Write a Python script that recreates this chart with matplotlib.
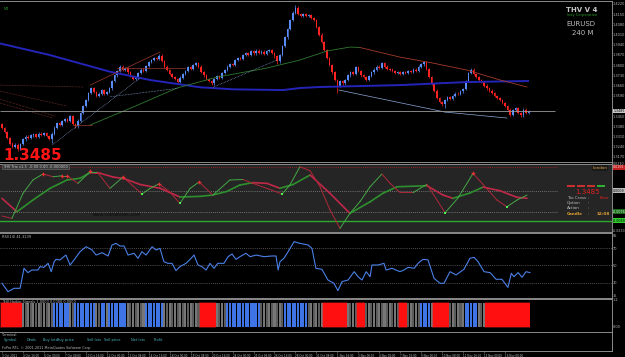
import matplotlib
matplotlib.use("Agg")
import matplotlib.pyplot as plt
import numpy as np
from matplotlib.collections import LineCollection
from matplotlib.patches import Rectangle

# ---- price data (EURUSD H4), bar index 0..201 ----
first_open = 1.3395
closes = [
    1.3370, 1.3340, 1.3300, 1.3262, 1.3240, 1.3255, 1.3228, 1.3260, 1.3290, 1.3310,
    1.3300, 1.3318, 1.3325, 1.3310, 1.3330, 1.3322, 1.3335, 1.3312, 1.3295, 1.3330,
    1.3372, 1.3400, 1.3390, 1.3415, 1.3432, 1.3420, 1.3448, 1.3395, 1.3380, 1.3420,
    1.3470, 1.3520, 1.3560, 1.3610, 1.3645, 1.3615, 1.3590, 1.3605, 1.3628, 1.3600,
    1.3615, 1.3640, 1.3690, 1.3730, 1.3760, 1.3790, 1.3770, 1.3782, 1.3750, 1.3725,
    1.3705, 1.3715, 1.3745, 1.3770, 1.3760, 1.3795, 1.3820, 1.3835, 1.3850, 1.3842,
    1.3865, 1.3830, 1.3790, 1.3765, 1.3740, 1.3720, 1.3705, 1.3685, 1.3715, 1.3740,
    1.3760, 1.3785, 1.3775, 1.3800, 1.3815, 1.3790, 1.3755, 1.3730, 1.3705, 1.3690,
    1.3675, 1.3705, 1.3725, 1.3715, 1.3745, 1.3768, 1.3790, 1.3810, 1.3800, 1.3835,
    1.3850, 1.3840, 1.3870, 1.3885, 1.3870, 1.3895, 1.3880, 1.3900, 1.3885, 1.3893,
    1.3878, 1.3895, 1.3905, 1.3885, 1.3860, 1.3825, 1.3870, 1.3930, 1.3990, 1.4050,
    1.4110, 1.4160, 1.4195, 1.4150, 1.4140, 1.4148, 1.4135, 1.4145, 1.4125, 1.4110,
    1.4060, 1.4010, 1.3960, 1.3905, 1.3850, 1.3800, 1.3750, 1.3700, 1.3660, 1.3690,
    1.3675, 1.3700, 1.3730, 1.3755, 1.3740, 1.3785, 1.3760, 1.3730, 1.3720, 1.3700,
    1.3725, 1.3750, 1.3770, 1.3790, 1.3780, 1.3815, 1.3790, 1.3775, 1.3770, 1.3760,
    1.3745, 1.3755, 1.3740, 1.3750, 1.3745, 1.3760, 1.3755, 1.3770, 1.3760, 1.3790,
    1.3805, 1.3820, 1.3775, 1.3720, 1.3670, 1.3625, 1.3575, 1.3545, 1.3530, 1.3560,
    1.3580, 1.3570, 1.3590, 1.3605, 1.3600, 1.3620, 1.3635, 1.3690, 1.3745, 1.3770,
    1.3740, 1.3720, 1.3700, 1.3685, 1.3660, 1.3640, 1.3625, 1.3610, 1.3590, 1.3575,
    1.3560, 1.3540, 1.3520, 1.3495, 1.3460, 1.3490, 1.3505, 1.3470, 1.3455, 1.3495,
    1.3470, 1.3485,
]
wick = 0.0008
long_wicks = {6: (None, 1.3212), 19: (None, 1.3265), 105: (None, 1.3808),
              112: (1.4215, None), 128: (None, 1.3612), 169: (None, 1.3505)}
current_price = 1.3485
price_ticks = [1.4220, 1.4150, 1.4080, 1.4010, 1.3940, 1.3870, 1.3800, 1.3730,
               1.3660, 1.3590, 1.3450, 1.3380, 1.3310, 1.3240, 1.3170]

# moving averages
ma_blue_x = [-0.8, 18.3, 41.2, 56.5, 75.6, 88.2, 107.3, 113.7, 121.4, 151.9, 177.5, 200.8]
ma_blue_p = [1.3949, 1.3869, 1.3755, 1.3698, 1.3648, 1.3634, 1.3629, 1.3643, 1.3650, 1.3663, 1.3684, 1.3691]
ma_up_x = [33.6, 50.0, 66.8, 82.1, 101.1, 113.7, 124.0, 132.8, 136.6]
ma_up_p = [1.3389, 1.3512, 1.3643, 1.3718, 1.3780, 1.3835, 1.3897, 1.3924, 1.3921]
ma_dn_x = [136.6, 151.9, 164.5, 177.5, 190.1, 200.4]
ma_dn_p = [1.3921, 1.3855, 1.3814, 1.3766, 1.3698, 1.3650]

# trend lines: (x0, p0, x1, p1)
blue_dotted = [(19.1, 1.3252, 52.7, 1.3711), (41.2, 1.3583, 67.2, 1.3641), (80.5, 1.3648, 104.9, 1.3835)]
blue_solid = [(128.6, 1.3629, 169.1, 1.3478), (169.1, 1.3478, 192.7, 1.3437)]
brown_dotted = [(-0.8, 1.3663, 30.9, 1.3650), (-0.8, 1.3622, 24.8, 1.3519),
                (-0.8, 1.3567, 20.2, 1.3451), (-0.8, 1.3540, 19.5, 1.3437)]
red_solid = [(33.6, 1.3663, 60.3, 1.3890), (43.9, 1.3780, 69.8, 1.3780), (27.1, 1.3389, 34.4, 1.3389)]

# ---- oscillator (trix style) ----
fast_x = [0, 3.8, 8.0, 11.8, 15.6, 19.5, 22.9, 24.8, 29.0, 33.6, 36.3, 41.2, 46.2, 49.6, 53.4, 56.5,
          59.9, 64.1, 67.9, 71.8, 75.2, 80.5, 87.0, 92.0, 95.8, 101.1, 106.9, 109.9, 113.7, 117.6,
          121.4, 125.2, 129.0, 132.8, 136.6, 140.5, 145.0, 148.1, 151.9, 156.9, 162.2, 169.1, 174.0,
          179.8, 184.4, 188.9, 192.7, 196.6, 200.4]
fast_v = [29.8, 27.9, 47.9, 58.6, 63.4, 61.2, 62.0, 62.0, 55.9, 65.2, 65.2, 51.9, 61.0, 54.6, 47.4, 51.9,
          55.5, 49.0, 39.9, 51.9, 57.0, 46.6, 58.6, 59.0, 55.9, 51.9, 47.4, 54.6, 69.2, 66.0,
          53.2, 34.6, 19.9, 31.9, 41.2, 53.2, 63.4, 56.0, 48.7, 48.5, 55.2, 32.4, 44.1,
          63.9, 53.2, 42.6, 37.2, 42.6, 46.6]
slow_x = [0, 5.7, 11.8, 18.3, 24.8, 29.8, 33.6, 37.4, 42.4, 46.9, 52.7, 60.3, 67.9, 75.6, 80.5, 85.9,
          90.8, 95.8, 101.1, 106.1, 111.1, 117.6, 125.2, 132.8, 140.5, 145.4, 150.8, 162.2, 168.3,
          172.1, 178.6, 183.6, 190.1, 196.6, 200.4]
slow_v = [43.9, 33.2, 42.6, 51.9, 58.6, 60.0, 64.5, 64.0, 61.0, 59.5, 55.0, 52.0, 45.0, 45.5, 46.6, 49.5,
          54.6, 56.5, 55.9, 52.0, 55.0, 62.6, 47.9, 31.9, 41.2, 48.0, 53.2, 54.0, 46.6,
          43.9, 48.2, 52.9, 50.0, 44.7, 44.0]
sell_x = [15.6, 22.9, 24.8, 33.6, 46.2, 59.9, 75.2, 179.8]
sell_v = [63.4, 62.0, 62.0, 65.8, 61.0, 55.5, 57.0, 63.9]
buy_x = [53.4, 67.9, 106.9, 169.1, 192.7]
buy_v = [47.4, 39.9, 47.4, 32.4, 37.2]

# ---- RSI(14) ----
rsi_x = [0, 2.3, 4.6, 6.9, 8.4, 9.9, 11.4, 13.7, 14.5, 16.0, 17.6, 18.8, 19.9, 20.6, 22.1, 24.4, 26.0,
         27.5, 29.8, 32.1, 34.4, 35.9, 38.2, 40.5, 42.0, 43.5, 45.0, 46.6, 48.1, 50.4, 51.9, 53.4,
         55.0, 57.3, 58.8, 60.3, 61.8, 63.4, 64.9, 66.4, 67.9, 70.2, 71.8, 73.3, 74.8, 76.3, 77.9,
         79.4, 80.9, 82.4, 84.7, 86.3, 87.8, 89.3, 90.8, 93.1, 94.7, 97.0, 100.0, 103.0, 104.6,
         105.4, 106.1, 107.6, 109.2, 111.5, 113.7, 116.8, 118.3, 119.8, 122.1, 124.4, 126.7, 128.2,
         129.8, 132.1, 134.4, 135.9, 137.4, 139.0, 140.5, 141.2, 143.5, 145.8, 146.6, 148.9, 150.4,
         151.9, 153.4, 155.0, 157.3, 158.8, 160.3, 161.1, 162.6, 164.9, 167.2, 168.7, 171.0, 173.3,
         176.3, 178.6, 180.2, 181.7, 184.0, 186.3, 188.6, 190.8, 193.1, 194.4, 195.4, 197.0, 198.5,
         200.0, 201.5]
rsi_v = [29.3, 19.6, 23.5, 23.5, 46.6, 41.6, 44.6, 44.6, 48.5, 47.7, 52.3, 42.7, 54.2, 56.9, 56.2, 61.9, 50.4,
         56.2, 65.8, 71.5, 67.7, 61.9, 64.6, 60.8, 73.5, 75.4, 72.3, 72.3, 61.9, 63.9, 58.1, 65.8,
         61.9, 71.5, 67.7, 69.6, 54.2, 52.3, 52.3, 43.9, 48.5, 52.3, 56.9, 61.9, 50.4, 48.5, 44.6,
         52.3, 46.6, 52.3, 52.3, 60.0, 63.1, 56.9, 60.0, 63.9, 60.0, 61.9, 60.0, 60.8, 60.8,
         44.6, 54.2, 58.1, 65.8, 77.3, 75.4, 73.5, 69.6, 46.6, 45.4, 33.1, 29.3, 20.8,
         31.2, 33.1, 42.7, 36.9, 33.1, 42.7, 36.9, 50.4, 50.4, 52.3, 44.6, 46.6, 44.6,
         42.7, 44.6, 47.7, 46.6, 52.3, 56.2, 56.9, 56.2, 35.0, 29.3, 29.3, 42.7, 38.9,
         45.4, 58.1, 59.2, 54.2, 42.7, 41.6, 33.9, 33.9, 24.6, 40.8, 36.9, 41.6, 36.2,
         42.7, 41.6]
rsi_levels = [70, 50, 30]

# ---- signal bars: (state, number of bars) ----
signal_runs = [("S", 8), ("N", 12), ("B", 6), ("N", 2), ("B", 8), ("N", 2), ("B", 2), ("N", 1),
               ("B", 7), ("N", 7), ("B", 7), ("N", 14), ("S", 6), ("N", 4), ("B", 13), ("N", 9),
               ("B", 9), ("N", 6), ("S", 9), ("N", 4), ("S", 3), ("N", 13), ("S", 3), ("N", 5),
               ("B", 4), ("N", 1), ("S", 6), ("N", 6), ("B", 5), ("N", 3), ("S", 17)]

time_labels = ["3 Oct 2011", "4 Oct 16:00", "6 Oct 00:00", "7 Oct 08:00", "10 Oct 16:00",
               "12 Oct 00:00", "13 Oct 08:00", "14 Oct 16:00", "18 Oct 00:00", "19 Oct 08:00",
               "20 Oct 16:00", "24 Oct 00:00", "25 Oct 08:00", "26 Oct 16:00", "28 Oct 00:00",
               "31 Oct 08:00", "1 Nov 16:00", "3 Nov 00:00", "4 Nov 08:00", "7 Nov 16:00",
               "9 Nov 00:00", "10 Nov 08:00", "11 Nov 16:00", "15 Nov 00:00", "16 Nov 08:00"]
terminal_cols = ["Symbol", "Deals", "Buy lots", "Buy price", "Sell lots", "Sell price", "Net lots", "Profit"]
terminal_pos = [4, 27, 43, 57, 87, 104, 131, 154]

# ---- drawing ----
W, H = 625, 357
fig = plt.figure(figsize=(W / 100, H / 100), dpi=100, facecolor="black")

def fx(x):
    return x / W

def fy(y):
    return 1 - y / H

XMIN, XMAX = -2 / 2.62, 610 / 2.62
EDGE = "#8a8a8a"
LBL = "#bdbdbd"
BLUE = "#5a8cf8"
RED = "#ff2222"

def panel(top, bottom, face, ylim):
    ax = fig.add_axes([0, fy(bottom), fx(612), (bottom - top) / H])
    ax.set_facecolor(face)
    ax.set_xlim(XMIN, XMAX)
    ax.set_ylim(*ylim)
    ax.set_xticks([])
    ax.yaxis.tick_right()
    ax.tick_params(axis="y", length=0, pad=0.6, labelsize=2.5, labelcolor=LBL)
    ax.spines["left"].set_visible(False)
    for s in ("top", "bottom", "right"):
        ax.spines[s].set_color(EDGE)
        ax.spines[s].set_linewidth(0.7)
    return ax

def tag(ax, y, text, fc, tc="black"):
    ax.text(1.002, y, text, transform=ax.get_yaxis_transform(), fontsize=2.3, color=tc,
            va="center", ha="left", clip_on=False,
            bbox=dict(fc=fc, ec="none", pad=0.3))

# main price panel
ax = panel(1, 162.5, "black", (1.3132, 1.4240))
c = np.array(closes)
o = np.r_[first_open, c[:-1]]
idx = np.arange(len(c))
hi = np.maximum(o, c) + wick
lo = np.minimum(o, c) - wick
for i, (h, l) in long_wicks.items():
    if h is not None:
        hi[i] = h
    if l is not None:
        lo[i] = l
cols = np.where(c >= o, BLUE, RED)
ax.vlines(idx, lo, hi, colors=cols, lw=0.5)
ax.bar(idx, np.maximum(np.abs(c - o), 0.0002), bottom=np.minimum(o, c), width=0.62,
       color=cols, linewidth=0)

ax.plot(ma_blue_x, ma_blue_p, color="#2424b8", lw=1.4)
ax.plot(ma_up_x, ma_up_p, color="#2f7a2f", lw=0.6)
ax.plot(ma_dn_x, ma_dn_p, color="#a33a2a", lw=0.6)
for x0, p0, x1, p1 in blue_dotted:
    ax.plot([x0, x1], [p0, p1], color="#8aa8d8", lw=0.5, ls=(0, (1, 1.2)))
for x0, p0, x1, p1 in blue_solid:
    ax.plot([x0, x1], [p0, p1], color="#8aa8d8", lw=0.5)
for x0, p0, x1, p1 in brown_dotted:
    ax.plot([x0, x1], [p0, p1], color="#8a3a30", lw=0.5, ls=(0, (1, 1.2)))
for x0, p0, x1, p1 in red_solid:
    ax.plot([x0, x1], [p0, p1], color="#9a3a30", lw=0.5)
ax.hlines(current_price, XMIN, 211, color="#9a9a9a", lw=0.6)
ax.set_yticks(price_ticks)
ax.set_yticklabels(["%.4f" % p for p in price_ticks])
tag(ax, current_price, "%.4f" % current_price, "#c8c8c8")

fig.text(fx(3), fy(160.5), "%.4f" % current_price, fontsize=11, fontweight="bold",
         color="#ff1414", va="baseline")
fig.text(fx(4), fy(9.5), "M4", fontsize=2.5, color="#2a9a2a", va="center")
fig.text(fx(582), fy(9.5), "THV V 4", fontsize=5, fontweight="bold", color="#c8c8c8",
         ha="center", va="center")
fig.text(fx(582), fy(15), "Indy Corporation", fontsize=2.5, color="#2aa02a", ha="center", va="center")
fig.text(fx(581), fy(24), "EURUSD", fontsize=5, color="#bdbdbd", ha="center", va="center")
fig.text(fx(583), fy(33), "240 M", fontsize=5, color="#bdbdbd", ha="center", va="center")

# oscillator panel
ax2 = panel(163.5, 231.5, "#252525", (17.4, 71.8))
ax2.set_yticks([])
ax2.axhline(69, xmax=557 / 612, color="#b02020", lw=0.6, ls=(0, (1, 1.5)))
ax2.axhline(50, xmax=557 / 612, color="#8a8a8a", lw=0.6, ls=(0, (1, 1.5)))
ax2.axhline(32.7, xmax=557 / 612, color="#8a8a8a", lw=0.6, ls=(0, (1, 1.5)))
ax2.axhline(26, color="#2fa82f", lw=1.0)

def slope_line(a, xs, vs, up_col, dn_col, lw):
    pts = np.column_stack([xs, vs])
    segs = np.stack([pts[:-1], pts[1:]], axis=1)
    sc = [up_col if b >= v else dn_col for v, b in zip(vs[:-1], vs[1:])]
    a.add_collection(LineCollection(segs, colors=sc, linewidths=lw, capstyle="round"))

slope_line(ax2, slow_x, slow_v, "#2e8f2e", "#c02848", 1.2)
slope_line(ax2, fast_x, fast_v, "#45a845", "#b0283a", 0.7)
ax2.plot(sell_x, sell_v, "P", color="#e83030", ms=2.6, mew=0)
ax2.plot(buy_x, buy_v, "s", color="#50f050", ms=2.0, mew=0)
tag(ax2, 71.2, "0.0230", "black", LBL)
tag(ax2, 68.7, "0.0155", "#c02020", "#ffdddd")
tag(ax2, 50, "0.0009", "#bdbdbd")
tag(ax2, 33.2, "-0.0076", "#1c6a1c", "#d0ffd0")
tag(ax2, 26, "-0.0089", "#30d030")
tag(ax2, 18.2, "-0.0233", "black", LBL)

fig.text(fx(3), fy(166.5), "THV Trix v1.3  -0.00 0.00 -0.000000", fontsize=2.6, color="#cfcfcf",
         va="center", bbox=dict(fc="#3a3a3a", ec="#707070", lw=0.4, pad=0.5))
fig.text(fx(93), fy(215), "www.cobraforex.com", fontsize=3.3, color="#0c0c0c", va="center")
fig.text(fx(600), fy(168), "London", fontsize=3.0, color="#d9a441", ha="center", va="center",
         bbox=dict(fc="#1a1a1a", ec="none", pad=0.5))
for k, col in enumerate(["#c83030", "#c83030", "#c83030", "#30b030"]):
    fig.patches.append(Rectangle((fx(567 + 10 * k), fy(187)), fx(8), 2 / H,
                                 transform=fig.transFigure, fc=col, ec="none"))
fig.text(fx(587), fy(192.5), "%.4f" % current_price, fontsize=5, color="#e02020", ha="center", va="center")
for yy, lab in [(198, "Tto Cross"), (203, "Option"), (208, "Action")]:
    fig.text(fx(567), fy(yy), lab, fontsize=3.0, color="#bdbdbd", va="center")
    fig.text(fx(588), fy(yy), ":", fontsize=3.0, color="#bdbdbd", va="center")
fig.text(fx(600), fy(198), "Bear", fontsize=3.0, color="#e02020", va="center")
fig.text(fx(567), fy(213.7), "Candle", fontsize=3.0, color="#e0a030", fontweight="bold", va="center")
fig.text(fx(588), fy(213.7), ":", fontsize=3.0, color="#e0a030", va="center")
fig.text(fx(597), fy(213.7), "32:08", fontsize=3.0, color="#e0a030", fontweight="bold", va="center")

# RSI panel
ax3 = panel(232.5, 297.5, "black", (12.9, 87.9))
for lv in rsi_levels:
    ax3.axhline(lv, color="#6a6a6a", lw=0.6, ls=(0, (1, 1.5)))
ax3.plot(rsi_x, rsi_v, color="#4a80e8", lw=0.8)
ax3.set_yticks([15, 30, 50, 70, 85])
fig.text(fx(2), fy(236.5), "RSI(14) 41.3139", fontsize=2.6, color="#bdbdbd", va="center")

# signal bars panel
ax4 = panel(298.5, 331.5, "black", (-0.1875, 1.1875))
ax4.set_yticks([0, 1.15])
ax4.set_yticklabels(["0.00", "1.2"])
pos = 0
for state, n in signal_runs:
    xs = np.arange(pos, pos + n)
    if state == "S":
        ax4.bar(pos - 0.5 + n / 2, 1.08, bottom=-0.04, width=n + 0.4, color="#ff2020", alpha=0.35, lw=0)
        ax4.bar(xs, 1, bottom=0, width=1.0, color="#ff0f0f", lw=0)
    elif state == "B":
        ax4.bar(xs, 1, bottom=0, width=0.78, color="#3f74e6", lw=0)
    else:
        ax4.bar(xs, 1, bottom=0, width=0.78,
                color=["#5c5c5c" if j % 2 else "#767676" for j in xs], lw=0)
    pos += n
fig.text(fx(2), fy(301.5), "THV Heikin Signals 1.0000 0.0000 0.0000", fontsize=2.5,
         color="#bdbdbd", va="center")

# terminal strip with time scale underneath
ax5 = panel(331.5, 351, "black", (0, 1))
ax5.set_yticks([])
ax5.set_xticks(np.arange(0, 8 * len(time_labels), 8))
ax5.set_xticklabels(time_labels)
ax5.tick_params(axis="x", length=1.4, width=0.4, color=EDGE, labelsize=2.0,
                labelcolor=LBL, pad=0.8)
for t in ax5.get_xticklabels():
    t.set_ha("left")
fig.text(fx(2), fy(335.5), "Terminal", fontsize=2.4, color="#bdbdbd", va="center")
for lab, xp in zip(terminal_cols, terminal_pos):
    fig.text(fx(xp), fy(340), lab, fontsize=2.5, color="#4ab8c4", va="center")
fig.text(fx(2), fy(348.5), "FxPro RTL, \u00a9 2001-2011 MetaQuotes Software Corp.", fontsize=2.4,
         color="#bdbdbd", va="center")

fig.savefig("out.png", dpi=100, facecolor="black")
